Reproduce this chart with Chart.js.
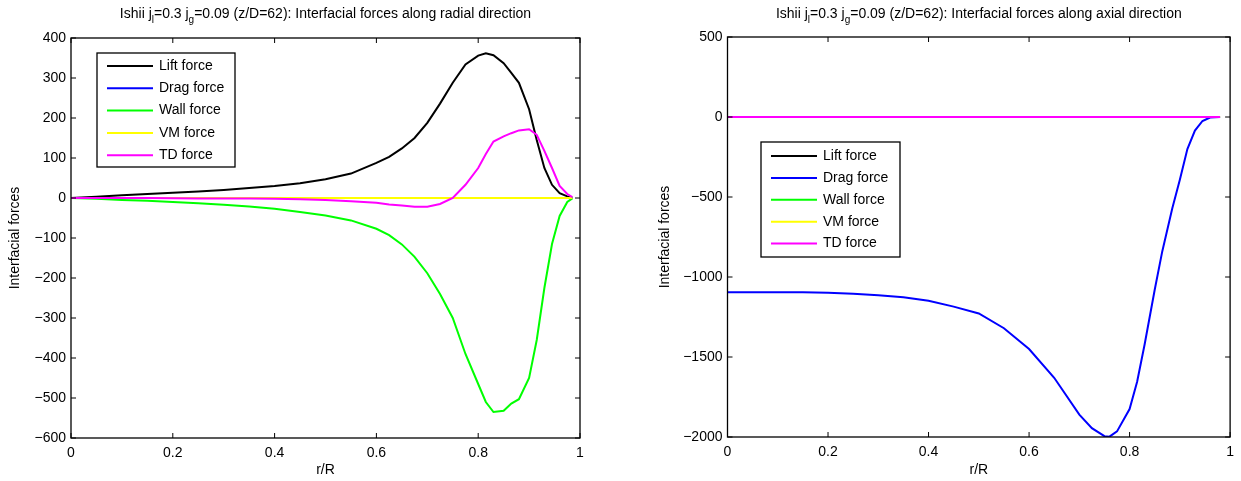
<!DOCTYPE html>
<html>
<head>
<meta charset="utf-8">
<script src="https://cdn.jsdelivr.net/npm/chart.js@4.4.1/dist/chart.umd.min.js"></script>
<style>
  html, body { margin: 0; padding: 0; background: #fff; }
  #wrap { position: relative; width: 1241px; height: 481px; overflow: hidden; }
  canvas { position: absolute; top: 0; }
</style>
</head>
<body>
<div id="wrap">
  <canvas id="radial" width="620" height="481" style="left:0"></canvas>
  <canvas id="axial" width="621" height="481" style="left:620px"></canvas>
</div>
<script>
// Tick labels
const xTicks = [0, 0.2, 0.4, 0.6, 0.8, 1];
const yTicksRadial = [-600, -500, -400, -300, -200, -100, 0, 100, 200, 300, 400];
const yTicksAxial = [-2000, -1500, -1000, -500, 0, 500];
const seriesNames = ['Lift force', 'Drag force', 'Wall force', 'VM force', 'TD force'];
const seriesColors = ['#000000', '#0000ff', '#00ff00', '#ffff00', '#ff00ff'];

// Radial direction (left panel)
const rRadial = [0, 0.05, 0.1, 0.15, 0.2, 0.25, 0.3, 0.35, 0.4, 0.45, 0.5, 0.55, 0.6, 0.625, 0.65, 0.675,
  0.7, 0.725, 0.75, 0.775, 0.8, 0.815, 0.83, 0.85, 0.865, 0.88, 0.9, 0.915, 0.93, 0.945, 0.96, 0.975, 0.985];
const liftRadial = [0, 3, 7, 10, 13, 16, 20, 25, 30, 37, 47, 61, 88, 103, 124, 150,
  188, 236, 288, 334, 356, 362, 357, 337, 313, 288, 222, 145, 75, 33, 12, 4, 1];
const dragRadial = [0, 0, 0, 0, 0, 0, 0, 0, 0, 0, 0, 0, 0, 0, 0, 0,
  0, 0, 0, 0, 0, 0, 0, 0, 0, 0, 0, 0, 0, 0, 0, 0, 0];
const wallRadial = [0, -2, -5, -7, -10, -13, -17, -21, -27, -35, -44, -56, -77, -93, -116, -147,
  -188, -240, -300, -390, -465, -510, -535, -532, -514, -503, -450, -355, -225, -115, -45, -10, -1];
const vmRadial = [0, 0, 0, 0, 0, 0, 0, 0, 0, 0, 0, 0, 0, 0, 0, 0,
  0, 0, 0, 0, 0, 0, 0, 0, 0, 0, 0, 0, 0, 0, 0, 0, 0];
const tdRadial = [0, 0, 0, 0, -0.5, -1, -1, -1.5, -2, -3, -5, -8, -12, -16, -19, -22,
  -22, -15, 0, 33, 75, 110, 141, 154, 162, 169, 172, 158, 118, 75, 30, 10, 2];

// Axial direction (right panel)
const rAxial = [0, 0.05, 0.1, 0.15, 0.2, 0.25, 0.3, 0.35, 0.4, 0.45, 0.5, 0.55, 0.6, 0.65, 0.7, 0.725,
  0.75, 0.76, 0.775, 0.8, 0.815, 0.83, 0.85, 0.865, 0.885, 0.9, 0.915, 0.93, 0.945, 0.96, 0.98];
const liftAxial = [0, 0, 0, 0, 0, 0, 0, 0, 0, 0, 0, 0, 0, 0, 0, 0,
  0, 0, 0, 0, 0, 0, 0, 0, 0, 0, 0, 0, 0, 0, 0];
const dragAxial = [-1095, -1095, -1095, -1096, -1099, -1105, -1114, -1127, -1148, -1185, -1228, -1320, -1450, -1630, -1860, -1945,
  -1995, -1998, -1965, -1825, -1655, -1420, -1080, -840, -570, -392, -200, -85, -25, -3, 0];
const wallAxial = [0, 0, 0, 0, 0, 0, 0, 0, 0, 0, 0, 0, 0, 0, 0, 0,
  0, 0, 0, 0, 0, 0, 0, 0, 0, 0, 0, 0, 0, 0, 0];
const vmAxial = [0, 0, 0, 0, 0, 0, 0, 0, 0, 0, 0, 0, 0, 0, 0, 0,
  0, 0, 0, 0, 0, 0, 0, 0, 0, 0, 0, 0, 0, 0, 0];
const tdAxial = [0, 0, 0, 0, 0, 0, 0, 0, 0, 0, 0, 0, 0, 0, 0, 0,
  0, 0, 0, 0, 0, 0, 0, 0, 0, 0, 0, 0, 0, 0, 0];

const FONT = '"Liberation Sans", Arial, Helvetica, sans-serif';

function fmtNum(v) {
    const s = String(+v.toFixed(2));
    return s.replace('-', '\u2212');
}

function makeDatasets(r, series) {
    return series.map((vals, i) => ({
        label: seriesNames[i],
        data: r.map((x, k) => ({ x: x, y: vals[k] })),
        borderColor: seriesColors[i],
        backgroundColor: seriesColors[i],
        borderWidth: 2,
        pointRadius: 0,
        tension: 0,
        fill: false,
        order: series.length - i
    }));
}

// Draws the box, inward ticks, titles and the in-axes legend (MATLAB style)
function matlabPlugin(cfg) {
    return {
        id: 'matlab',
        afterDatasetsDraw(chart) {
            const ctx = chart.ctx;
            const a = chart.chartArea;
            const xs = chart.scales.x, ys = chart.scales.y;
            ctx.save();
            ctx.strokeStyle = '#000';
            ctx.lineWidth = 1.3;
            ctx.strokeRect(a.left, a.top, a.right - a.left, a.bottom - a.top);
            ctx.lineWidth = 1;
            ctx.beginPath();
            xs.ticks.forEach(t => {
                const px = xs.getPixelForValue(t.value);
                ctx.moveTo(px, a.bottom); ctx.lineTo(px, a.bottom - 5);
                ctx.moveTo(px, a.top); ctx.lineTo(px, a.top + 5);
            });
            ys.ticks.forEach(t => {
                const py = ys.getPixelForValue(t.value);
                ctx.moveTo(a.left, py); ctx.lineTo(a.left + 5, py);
                ctx.moveTo(a.right, py); ctx.lineTo(a.right - 5, py);
            });
            ctx.stroke();

            // legend
            const lg = cfg.legend;
            ctx.fillStyle = '#fff';
            ctx.fillRect(lg.x, lg.y, lg.w, lg.h);
            ctx.strokeStyle = '#000';
            ctx.lineWidth = 1.3;
            ctx.strokeRect(lg.x, lg.y, lg.w, lg.h);
            ctx.font = '14px ' + FONT;
            ctx.textBaseline = 'middle';
            ctx.textAlign = 'left';
            chart.data.datasets.forEach((ds, i) => {
                const yy = lg.y + lg.first + i * lg.step;
                ctx.strokeStyle = ds.borderColor;
                ctx.lineWidth = 2;
                ctx.beginPath();
                ctx.moveTo(lg.x + 10, yy);
                ctx.lineTo(lg.x + 56, yy);
                ctx.stroke();
                ctx.fillStyle = '#000';
                ctx.fillText(ds.label, lg.x + 62, yy);
            });

            // axis titles
            ctx.fillStyle = '#000';
            ctx.font = '14px ' + FONT;
            ctx.textAlign = 'center';
            ctx.textBaseline = 'middle';
            ctx.fillText('r/R', (a.left + a.right) / 2, 470);
            ctx.save();
            ctx.translate(cfg.yTitleX, (a.top + a.bottom) / 2);
            ctx.rotate(-Math.PI / 2);
            ctx.fillText('Interfacial forces', 0, 0);
            ctx.restore();

            // title with subscripts
            const parts = [
                ['Ishii j', false], ['l', true], ['=0.3 j', false], ['g', true],
                ['=0.09 (z/D=62): Interfacial forces along ' + cfg.dir + ' direction', false]
            ];
            const big = '14px ' + FONT, small = '10px ' + FONT;
            let total = 0;
            parts.forEach(p => { ctx.font = p[1] ? small : big; total += ctx.measureText(p[0]).width; });
            let x = (a.left + a.right) / 2 - total / 2;
            ctx.textAlign = 'left';
            ctx.textBaseline = 'alphabetic';
            parts.forEach(p => {
                ctx.font = p[1] ? small : big;
                ctx.fillText(p[0], x, p[1] ? 23 : 18);
                x += ctx.measureText(p[0]).width;
            });
            ctx.restore();
        }
    };
}

function makeChart(id, r, series, yTicks, layout) {
    const ctx = document.getElementById(id).getContext('2d');
    return new Chart(ctx, {
        type: 'line',
        data: { datasets: makeDatasets(r, series) },
        options: {
            responsive: false,
            animation: false,
            devicePixelRatio: 1,
            layout: { padding: { top: layout.top, right: layout.right, left: 0, bottom: 0 } },
            plugins: { legend: { display: false }, title: { display: false }, tooltip: { enabled: false } },
            scales: {
                x: {
                    type: 'linear',
                    min: 0, max: 1,
                    grid: { display: false, drawTicks: false },
                    border: { display: false },
                    afterBuildTicks: s => { s.ticks = xTicks.map(v => ({ value: v })); },
                    afterFit: s => { s.height = layout.bottom; },
                    ticks: {
                        padding: 7, maxRotation: 0, autoSkip: false,
                        color: '#000', font: { family: FONT, size: 14 },
                        callback: v => fmtNum(v)
                    }
                },
                y: {
                    type: 'linear',
                    min: yTicks[0], max: yTicks[yTicks.length - 1],
                    grid: { display: false, drawTicks: false },
                    border: { display: false },
                    afterBuildTicks: s => { s.ticks = yTicks.map(v => ({ value: v })); },
                    afterFit: s => { s.width = layout.left; },
                    ticks: {
                        padding: 5, autoSkip: false,
                        color: '#000', font: { family: FONT, size: 14 },
                        callback: v => fmtNum(v)
                    }
                }
            }
        },
        plugins: [matlabPlugin(layout)]
    });
}

makeChart('radial', rRadial, [liftRadial, dragRadial, wallRadial, vmRadial, tdRadial], yTicksRadial, {
    top: 38, right: 40, bottom: 43, left: 71, yTitleX: 15, dir: 'radial',
    legend: { x: 97, y: 53, w: 138, h: 114, first: 13, step: 22.3 }
});

makeChart('axial', rAxial, [liftAxial, dragAxial, wallAxial, vmAxial, tdAxial], yTicksAxial, {
    top: 37, right: 4, bottom: 44, left: 107.5, yTitleX: 45, dir: 'axial',
    legend: { x: 141, y: 142, w: 139, h: 115, first: 14, step: 21.9 }
});
</script>
</body>
</html>
